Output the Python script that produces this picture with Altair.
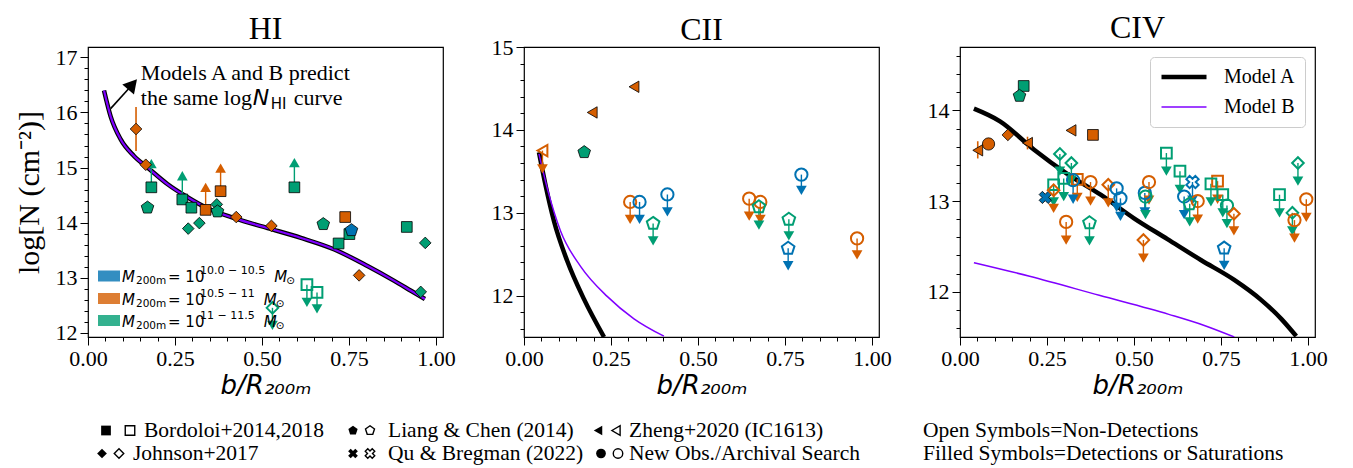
import altair as alt
import numpy as np
import pandas as pd

SERIF = "Liberation Serif"
SANS = "DejaVu Sans"
BLUE, ORANGE, GREEN = "#0072B2", "#D55E00", "#009E73"
PURPLE = "#7F00FF"

# ---------------- data ----------------
mass_keys = ["b", "o", "g"]
mass_colors = [BLUE, ORANGE, GREEN]
mass_sups = ["10.0 − 10.5", "10.5 − 11", "11 − 11.5"]

survey_keys = ["B", "J", "L", "Q", "Z", "N"]
survey_labels = ["Bordoloi+2014,2018", "Johnson+2017", "Liang & Chen (2014)",
                 "Qu & Bregman (2022)", "Zheng+2020 (IC1613)", "New Obs./Archival Search"]
note_labels = ["Open Symbols=Non-Detections", "Filled Symbols=Detections or Saturations"]
model_names = ["Model A", "Model B"]

# HI panel  (kind: D=detection, L=lower limit, U=upper limit)
hi_x = [0.138, 0.166, 0.182, 0.171, 0.271, 0.297, 0.338, 0.381, 0.288, 0.320, 0.370, 0.372, 0.426,
        0.527, 0.593, 0.676, 0.739, 0.751, 0.720, 0.757, 0.916, 0.969, 0.779, 0.956, 0.629, 0.658, 0.530]
hi_y = [15.70, 15.05, 14.64, 14.27, 14.42, 14.27, 14.23, 14.57, 13.89, 13.99, 14.33, 14.20, 14.10,
        13.94, 14.64, 13.97, 14.10, 13.79, 13.62, 13.86, 13.92, 13.63, 13.04, 12.74, 12.87, 12.73, 12.45]
hi_mass = "o o g g g g o o g g g g o o g g o g g b g g o g g g g".split()
hi_ref = "J J B L B B B B J J J L J J B L B B B L B J J J B B J".split()
hi_kind = "D D L D L D L L D D D D D D L D D D D D D D D D U U U".split()
hi_lim = [None, None, 15.07, None, 14.85, None, 14.64, 14.99, None, None, None, None, None,
          None, 15.09, None, None, None, None, None, None, None, None, None, 12.55, 12.43, 12.13]
hi_elo = [15.30] + [None] * 26
hi_ehi = [16.10] + [None] * 26

# CII panel
cii_x = [0.316, 0.196, 0.173, 0.053, 0.305, 0.332, 0.371, 0.412, 0.647, 0.679, 0.675, 0.761, 0.759, 0.797, 0.957]
cii_y = [14.52, 14.21, 13.73, 13.75, 13.13, 13.13, 12.87, 13.22, 13.17, 13.13, 13.07, 12.92, 12.57, 13.46, 12.69]
cii_mass = "o o g o o b g b o o g g b b o".split()
cii_ref = "Z Z L Z N N L N N N L L L N N".split()
cii_kind = "D D D U U U U U U U U U U U U".split()
cii_lim = [None, None, None, 13.53, 12.92, 12.92, 12.66, 13.01, 12.96, 12.92, 12.85, 12.72, 12.36, 13.27, 12.49]

# CIV panel
civ_x = [0.183, 0.171, 0.319, 0.382, 0.1375, 0.194, 0.082, 0.051, 0.245,
         0.287, 0.320, 0.269, 0.269, 0.337, 0.325, 0.298, 0.375, 0.426, 0.450, 0.461, 0.531, 0.533,
         0.543, 0.372, 0.305, 0.527, 0.593, 0.632, 0.668, 0.644, 0.683, 0.660, 0.740, 0.721, 0.755,
         0.767, 0.787, 0.759, 0.918, 0.971, 0.955, 0.961, 0.995]
civ_y = [14.27, 14.16, 13.78, 13.73, 13.73, 13.64, 13.63, 13.56, 13.04,
         13.52, 13.42, 13.18, 13.12, 13.24, 13.23, 13.25, 13.21, 13.18, 13.14, 13.03, 13.09, 13.05,
         13.21, 12.76, 12.77, 12.57, 13.53, 13.33, 13.21, 13.05, 13.00, 12.97, 13.22, 13.19, 13.07,
         12.95, 12.86, 12.48, 13.07, 13.42, 12.87, 12.79, 13.02]
civ_mass = ("g g o o o o o o b "
            "g g g o o b g o o b b b g "
            "o g o o g g b b o g o g g "
            "g o b g g g o o").split()
civ_ref = ("B L Z B J Z N Z Q "
           "J J B J B N B N J N N N N "
           "N L N J B B Q N N L B B B "
           "N J L B J J N N").split()
civ_kind = ["D"] * 9 + ["U"] * 34
civ_lim = [None] * 9 + [13.33, 13.23, 12.99, 12.92, 13.04, 13.02, 13.05, 13.00, 12.98, 12.93, 12.83,
                        12.88, 12.85, 13.01, 12.56, 12.57, 12.37, 13.33, 13.13, 13.01, 12.85, 12.80,
                        12.77, 13.02, 12.99, 12.87, 12.75, 12.67, 12.29, 12.87, 13.22, 12.67, 12.59, 12.82]
civ_elo = [None] * 5 + [13.57, None, 13.47] + [None] * 35
civ_ehi = [None] * 5 + [13.71, None, 13.66] + [None] * 35

# model curves
hi_mx = [0.046, 0.065, 0.094, 0.132, 0.171, 0.228, 0.286, 0.343, 0.42, 0.516, 0.612, 0.708, 0.803,
         0.88, 0.928, 0.968]
hi_my = [16.40, 15.93, 15.51, 15.21, 15.00, 14.70, 14.46, 14.26, 14.08, 13.90, 13.72, 13.51, 13.21,
         12.94, 12.76, 12.61]
cii_ax = [0.043, 0.062, 0.086, 0.124, 0.172, 0.23]
cii_ay = [13.73, 13.33, 12.90, 12.42, 11.96, 11.50]
cii_bx = [0.043, 0.069, 0.105, 0.163, 0.239, 0.316, 0.402]
cii_by = [13.71, 13.26, 12.78, 12.35, 11.99, 11.72, 11.51]
civ_ax = [0.040, 0.115, 0.212, 0.308, 0.404, 0.5, 0.596, 0.692, 0.788, 0.865, 0.923, 0.966]
civ_ay = [14.02, 13.88, 13.57, 13.30, 13.07, 12.81, 12.58, 12.35, 12.13, 11.91, 11.70, 11.51]
civ_bx = [0.04, 0.2, 0.4, 0.6, 0.7, 0.788]
civ_by = [12.32, 12.17, 11.96, 11.75, 11.63, 11.50]

# HI annotation
ann_shaft_x = [0.065, 0.118]
ann_shaft_y = [16.07, 16.44]
ann_head = (0.128, 16.51)
ann_text_pos = (0.1516, 16.71, 16.27)

# ---------------- styling ----------------
W, H = 355, 290

def pent_path():
    ang = np.deg2rad(-90 + 72 * np.arange(5))
    pts = [f"{np.cos(a):.3f},{np.sin(a):.3f}" for a in ang]
    return "M" + "L".join(pts) + "Z"

def x_path():
    w = 0.36
    base = np.array([(-w, -1), (w, -1), (w, -w), (1, -w), (1, w), (w, w), (w, 1), (-w, 1),
                     (-w, w), (-1, w), (-1, -w), (-w, -w)])
    c = np.cos(np.pi / 4)
    rot = np.array([[c, -c], [c, c]])
    p = base @ rot.T
    p = p / np.abs(p).max()
    return "M" + "L".join(f"{a:.3f},{b:.3f}" for a, b in p) + "Z"

SHAPES = {"B": "square", "J": "diamond", "L": pent_path(), "Q": x_path(), "Z": "triangle-left", "N": "circle"}
SIZES = {"B": 115, "J": 135, "L": 175, "Q": 150, "Z": 130, "N": 150}
MCOL = dict(zip(mass_keys, mass_colors))

X_MAJOR = "abs(datum.value*4 - round(datum.value*4)) < 0.001"
Y_MAJOR = "abs(datum.value - round(datum.value)) < 0.001"
XT = [round(0.05 * k, 2) for k in range(21)]


def x_axis():
    return alt.Axis(values=XT, labelExpr=f"{X_MAJOR} ? format(datum.value, '.2f') : ''",
                    tickSize={"condition": {"test": X_MAJOR, "value": 8}, "value": 4},
                    title="b/R₂₀₀ₘ", titleFont=SANS, titleFontStyle="italic", titleFontWeight="normal",
                    titleFontSize=26, titleColor="black", titlePadding=3,
                    labelFont=SERIF, labelFontSize=22, labelColor="black", labelPadding=3,
                    labelFlush=False, labelOverlap=False, domain=False, grid=False,
                    tickColor="black", tickWidth=1)


def y_axis(vals, title):
    kw = dict(values=vals, labelExpr=f"{Y_MAJOR} ? format(datum.value, 'd') : ''",
              tickSize={"condition": {"test": Y_MAJOR, "value": 8}, "value": 4},
              labelFont=SERIF, labelFontSize=22, labelColor="black", labelPadding=3,
              labelFlush=False, labelOverlap=False, domain=False, grid=False,
              tickColor="black", tickWidth=1)
    if title:
        return alt.Axis(title=title, titleFont=SERIF, titleFontSize=30, titleFontWeight="normal",
                        titleColor="black", titlePadding=11, **kw)
    return alt.Axis(title=None, **kw)


def nn(v, n):
    return [np.nan if x is None else x for x in (v if v is not None else [None] * n)]


def make_df(xs, ys, mass, ref, kind, lim, elo=None, ehi=None):
    n = len(xs)
    df = pd.DataFrame(dict(x=xs, y=ys, mass=mass, ref=ref, kind=kind,
                           lim=nn(lim, n), elo=nn(elo, n), ehi=nn(ehi, n)))
    df["color"] = df["mass"].map(MCOL)
    df["shape"] = df["ref"].map(SHAPES)
    df["size"] = df["ref"].map(SIZES)
    df["head"] = np.where(df["kind"] == "L", "triangle-up", "triangle-down")
    return df


def panel(title, df, lines, ydom, yvals, ytitle, widths, legend=False, extra=None, toff=0):
    xs = alt.Scale(domain=[0, 1.02], nice=False, zero=False)
    ys = alt.Scale(domain=ydom, nice=False, zero=False)
    xa, ya = x_axis(), y_axis(yvals, ytitle)
    X = lambda f="x": alt.X(f"{f}:Q", scale=xs, axis=xa)
    Y = lambda f="y": alt.Y(f"{f}:Q", scale=ys, axis=ya)

    leg = None
    if legend:
        leg = alt.Legend(title=None, orient="top-right", offset=10, fillColor="rgba(255,255,255,0.85)",
                         strokeColor="#cccccc", cornerRadius=4, padding=9, labelFont=SERIF,
                         labelFontSize=20, labelColor="black", labelOffset=15, symbolType="stroke",
                         symbolSize=2025, rowPadding=8, clipHeight=22)
    line_layer = alt.Chart(lines).mark_line(clip=True, interpolate="monotone").encode(
        X(), Y(),
        color=alt.Color("model:O", scale=alt.Scale(domain=model_names, range=["black", PURPLE]), legend=leg),
        strokeWidth=alt.StrokeWidth("model:O", scale=alt.Scale(domain=model_names, range=widths), legend=leg),
        order=alt.Order("ord:Q"),
    )
    layers = [line_layer]

    err = df.dropna(subset=["elo"])
    if len(err):
        layers.append(alt.Chart(err).mark_rule(strokeWidth=1.6).encode(
            X(), Y("elo"), y2="ehi:Q", stroke=alt.Stroke("color:N", scale=None)))
    lim = df.dropna(subset=["lim"])
    if len(lim):
        layers.append(alt.Chart(lim).mark_rule(strokeWidth=1.4).encode(
            X(), Y(), y2="lim:Q", stroke=alt.Stroke("color:N", scale=None)))
        layers.append(alt.Chart(lim).mark_point(filled=True, opacity=1, size=115).encode(
            X(), Y("lim"), fill=alt.Fill("color:N", scale=None),
            shape=alt.Shape("head:N", scale=None)))
    filled = df[df["kind"] != "U"]
    if len(filled):
        layers.append(alt.Chart(filled).mark_point(filled=True, opacity=1, stroke="black", strokeWidth=0.8).encode(
            X(), Y(), fill=alt.Fill("color:N", scale=None), shape=alt.Shape("shape:N", scale=None),
            size=alt.Size("size:Q", scale=None)))
    opn = df[df["kind"] == "U"]
    if len(opn):
        layers.append(alt.Chart(opn).mark_point(filled=False, opacity=1, strokeWidth=2).encode(
            X(), Y(), stroke=alt.Stroke("color:N", scale=None), shape=alt.Shape("shape:N", scale=None),
            size=alt.Size("size:Q", scale=None)))
    if extra is not None:
        layers.extend(extra(X, Y))
    return alt.layer(*layers).properties(
        width=W, height=H,
        title=alt.TitleParams(title, font=SERIF, fontSize=32, fontWeight="normal", color="black",
                              offset=toff, frame="group"))


def lines_df(ax, ay, bx, by):
    a = pd.DataFrame(dict(x=ax, y=ay, model="Model A"))
    b = pd.DataFrame(dict(x=bx, y=by, model="Model B"))
    d = pd.concat([a, b], ignore_index=True)
    d["ord"] = np.arange(len(d))
    return d


def dv_width(s, size):
    w = {".": 0.318, " ": 0.318, "−": 0.838, "=": 0.838, "m": 0.974, "M": 0.863}
    return sum(w.get(c, 0.636) for c in s) * size


def hi_extras(X, Y):
    out = []
    shaft = pd.DataFrame(dict(x=ann_shaft_x, y=ann_shaft_y))
    out.append(alt.Chart(shaft).mark_line(color="black", strokeWidth=1.6).encode(X(), Y()))
    head = pd.DataFrame(dict(x=[ann_head[0]], y=[ann_head[1]]))
    out.append(alt.Chart(head).mark_point(shape="triangle-up", filled=True, color="black", opacity=1,
                                          size=240, angle=41).encode(X(), Y()))
    tx, ty1, ty2 = ann_text_pos
    parts = [("Models A and B predict", ty1, 0, 0, SERIF, 22, "normal"),
             ("the same log", ty2, 0, 0, SERIF, 22, "normal"),
             ("N", ty2, 112, 0, SANS, 22, "italic"),
             ("HI", ty2, 130, 6, SANS, 15, "normal"),
             ("curve", ty2, 153, 0, SERIF, 22, "normal")]
    for txt, ty, dx, dy, font, fs, st in parts:
        d = pd.DataFrame(dict(x=[tx], y=[ty], t=[txt]))
        out.append(alt.Chart(d).mark_text(align="left", baseline="middle", dx=dx, dy=dy, font=font,
                                          fontSize=fs, fontStyle=st, color="black").encode(X(), Y(), text="t:N"))
    for i, (key, col, sup) in enumerate(zip(mass_keys, mass_colors, mass_sups)):
        yc = H - [61, 38.5, 16.5][i]
        d = pd.DataFrame(dict(k=[key], c=[col]))
        out.append(alt.Chart(d).mark_rect(opacity=0.8).encode(
            x=alt.value(10), x2=alt.value(32), y=alt.value(yc - 5.5), y2=alt.value(yc + 5.5),
            fill=alt.Fill("c:N", scale=None)))
        sup_x = 112
        m_x = sup_x + dv_width(sup, 11) + 9
        items = [("M", 34, 1, 15, "italic"), ("200m", 48, 5, 10.5, "normal"), ("= 10", 80, 1, 15, "normal"),
                 (sup, sup_x, -5, 11, "normal"), ("M", m_x, 1, 15, "italic"), ("⊙", m_x + 12, 5, 10.5, "normal")]
        for txt, px, dy, fs, st in items:
            dd = pd.DataFrame(dict(t=[txt]))
            out.append(alt.Chart(dd).mark_text(align="left", baseline="middle", font=SANS, fontSize=fs,
                                               fontStyle=st, color="black").encode(
                x=alt.value(px), y=alt.value(yc + dy), text="t:N"))
    return out


hi_df = make_df(hi_x, hi_y, hi_mass, hi_ref, hi_kind, hi_lim, hi_elo, hi_ehi)
cii_df = make_df(cii_x, cii_y, cii_mass, cii_ref, cii_kind, cii_lim)
civ_df = make_df(civ_x, civ_y, civ_mass, civ_ref, civ_kind, civ_lim, civ_elo, civ_ehi)

p1 = panel("HI", hi_df, lines_df(hi_mx, hi_my, hi_mx, hi_my), [11.92, 17.19],
           [round(12 + 0.2 * k, 1) for k in range(26)], "log[N (cm⁻²)]", [4.5, 2.2], extra=hi_extras)
p2 = panel("CII", cii_df, lines_df(cii_ax, cii_ay, cii_bx, cii_by), [11.5, 15.0],
           [round(11.6 + 0.2 * k, 1) for k in range(18)], None, [4.5, 1.5], toff=-11)
p3 = panel("CIV", civ_df, lines_df(civ_ax, civ_ay, civ_bx, civ_by), [11.5, 14.7],
           [round(11.6 + 0.2 * k, 1) for k in range(16)], None, [4.5, 1.5], legend=True)

top = alt.hconcat(p1, p2, p3, spacing=81, bounds="flush").resolve_scale(
    x="independent", y="independent", color="independent", strokeWidth="independent")

# ---------------- bottom legend ----------------
LEG_POS = {"B": (18, 42, 56, 0), "J": (14, 31, 45, 1), "L": (265, 282, 300, 0), "Q": (265, 282, 300, 1),
           "Z": (510, 528, 541, 0), "N": (513, 530, 541, 1)}
NOTE_X = 835
mk_rows, tx_rows = [], []
for key, lab in zip(survey_keys, survey_labels):
    fx, ox, tpx, row = LEG_POS[key]
    mk_rows.append(dict(px=fx, row=row, shape=SHAPES[key], filled=1))
    mk_rows.append(dict(px=ox, row=row, shape=SHAPES[key], filled=0))
    tx_rows.append(dict(px=tpx, row=row, t=lab))
for i, lab in enumerate(note_labels):
    tx_rows.append(dict(px=NOTE_X, row=i, t=lab))
mk = pd.DataFrame(mk_rows)
txd = pd.DataFrame(tx_rows)
LW, LH = 1200, 46
lx = alt.X("px:Q", scale=alt.Scale(domain=[0, LW], nice=False, zero=False), axis=None)
ly = alt.Y("row:Q", scale=alt.Scale(domain=[-0.5, 1.5], reverse=True, nice=False, zero=False), axis=None)
leg_f = alt.Chart(mk[mk.filled == 1]).mark_point(filled=True, color="black", opacity=1, size=95).encode(
    lx, ly, shape=alt.Shape("shape:N", scale=None))
leg_o = alt.Chart(mk[mk.filled == 0]).mark_point(filled=False, color="black", opacity=1, size=90,
                                                 strokeWidth=1.4).encode(lx, ly, shape=alt.Shape("shape:N", scale=None))
leg_t = alt.Chart(txd).mark_text(align="left", baseline="middle", font=SERIF, fontSize=21.5, color="black").encode(
    lx, ly, text="t:N")
legend_chart = alt.layer(leg_f, leg_o, leg_t).properties(
    width=LW, height=LH, view=alt.ViewBackground(stroke="transparent"))

chart = alt.vconcat(top, legend_chart, spacing=19).resolve_scale(
    x="independent", y="independent").properties(
    padding={"left": 5, "top": 3, "right": 0, "bottom": 0}
).configure_view(stroke="black", strokeWidth=1.2)

chart.save("out.html", embed_options={"renderer": "svg", "actions": False})
